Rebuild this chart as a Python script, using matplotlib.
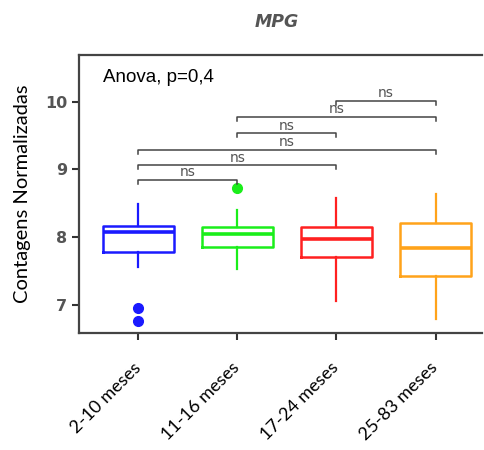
import matplotlib
matplotlib.use("Agg")
import matplotlib.pyplot as plt

grupos = ["2-10 meses", "11-16 meses", "17-24 meses", "25-83 meses"]
cores = ["#1a1aff", "#1aee1a", "#ff2020", "#ffa31a"]

# resumo: whisker baixo, Q1, mediana, Q3, whisker alto
wlo = [7.55, 7.52, 7.05, 6.79]
q1 = [7.78, 7.85, 7.70, 7.42]
med = [8.07, 8.04, 7.97, 7.84]
q3 = [8.16, 8.15, 8.15, 8.20]
whi = [8.48, 8.40, 8.58, 8.63]
outliers = [[6.95, 6.75], [8.73], [], []]

# comparacoes (grupo a, grupo b, altura)
comp_a = [1, 1, 1, 2, 2, 3]
comp_b = [2, 3, 4, 3, 4, 4]
comp_y = [8.84, 9.06, 9.29, 9.53, 9.77, 10.01]
comp_txt = ["ns"] * 6

fig = plt.figure(figsize=(4.84, 4.5), dpi=100)
ax = fig.add_axes([0.163, 0.26, 0.833, 0.618])

stats = []
for i in range(len(grupos)):
    stats.append({"whislo": wlo[i], "q1": q1[i], "med": med[i], "q3": q3[i],
                  "whishi": whi[i], "fliers": outliers[i], "label": grupos[i]})

for i, s in enumerate(stats):
    c = cores[i]
    ax.bxp([s], positions=[i + 1], widths=0.72, showcaps=False,
           boxprops=dict(color=c, linewidth=1.8),
           medianprops=dict(color=c, linewidth=2.6),
           whiskerprops=dict(color=c, linewidth=1.6),
           flierprops=dict(marker="o", markerfacecolor=c, markeredgecolor=c,
                           markersize=7))

for a, b, y, t in zip(comp_a, comp_b, comp_y, comp_txt):
    ax.plot([a, a, b, b], [y - 0.06, y, y, y - 0.06], color="#444444", lw=1.1)
    ax.text((a + b) / 2, y + 0.01, t, ha="center", va="bottom",
            fontsize=10, color="#555555", family="DejaVu Sans")

ax.text(0.059, 0.917, "Anova, p=0,4", transform=ax.transAxes, fontsize=13.5,
        ha="left", va="center", family="Liberation Sans")

ax.set_xlim(0.40, 4.47)
ax.set_ylim(6.58, 10.69)
ax.set_yticks([7, 8, 9, 10])
ax.set_xticks([1, 2, 3, 4])
ax.set_xticklabels(grupos, rotation=45, ha="right", va="center",
                   rotation_mode="anchor", fontsize=13, family="Lato")
for lab in ax.get_yticklabels():
    lab.set_fontsize(11.5)
    lab.set_fontweight("bold")
ax.tick_params(axis="y", length=5, width=1.5, colors="#333333", labelcolor="#555555")
ax.tick_params(axis="x", length=5, width=1.5, colors="#333333", labelcolor="black", pad=18)

for sp in ["left", "bottom", "top"]:
    ax.spines[sp].set_linewidth(1.6)
    ax.spines[sp].set_color("#444444")
ax.spines["right"].set_visible(False)

ax.set_ylabel("Contagens Normalizadas", fontsize=14.5, family="Lato", labelpad=10)

fig.text(0.572, 0.951, "MPG", ha="center", va="center", fontsize=12.5,
         fontweight="bold", fontstyle="italic", color="#555555")

fig.savefig("out.png", dpi=100)
